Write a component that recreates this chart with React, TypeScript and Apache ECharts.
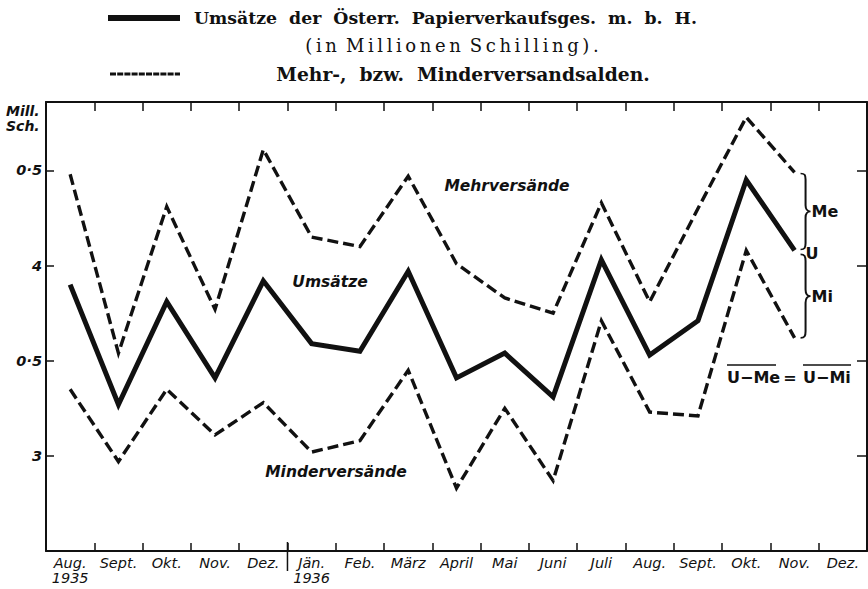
import React, { useEffect, useRef } from "react";
import * as echarts from "echarts";

const months = [
  "Aug.\n1935", "Sept.", "Okt.", "Nov.", "Dez.", "Jän.\n1936", "Feb.", "März",
  "April", "Mai", "Juni", "Juli", "Aug.", "Sept.", "Okt.", "Nov.", "Dez.",
];
const umsaetze = [3.9, 3.27, 3.81, 3.41, 3.92, 3.59, 3.55, 3.97, 3.41, 3.54, 3.31, 4.03, 3.53, 3.71, 4.45, 4.08, null];
const mehrversand = [4.48, 3.54, 4.31, 3.77, 4.61, 4.15, 4.1, 4.47, 4.01, 3.83, 3.75, 4.33, 3.81, 4.3, 4.78, 4.49, null];
const minderversand = [3.35, 2.97, 3.35, 3.11, 3.28, 3.02, 3.08, 3.45, 2.83, 3.25, 2.87, 3.71, 3.23, 3.21, 4.08, 3.62, null];
const yTickValues = [3, 3.5, 4, 4.5];
const yTickTexts = ["3", "0·5", "4", "0·5"];

const Y_MIN = 2.5;
const Y_MAX = 4.86;
const Y_STEP = 0.5;

const BRACE = "M0,0 C4,0 5,2 5,8 L5,42 C5,47 6,50 10,50 C6,50 5,53 5,58 L5,92 C5,98 4,100 0,100";
echarts.graphic.registerShape("brace", echarts.graphic.extendPath(BRACE, {}));

const SANS = "DejaVu Sans";
const SERIF = "DejaVu Serif";
const INK = "#111";

// spaced-out typesetting (thin spaces between letters)
const spaced = (s: string) =>
  s.split(" ").map((w) => w.split("").join("\u2009")).join("\u2002");

export default function App() {
  const ref = useRef<HTMLDivElement>(null);
  useEffect(() => {
    document.body.style.margin = "0";
    const chart = echarts.init(ref.current!, null, { renderer: "svg" });
    const yFmt = (v: number) => {
      const i = yTickValues.findIndex((t) => Math.abs(t - v) < 1e-6);
      return i >= 0 ? yTickTexts[i] : "";
    };
    const axisLine = { show: true, lineStyle: { color: INK, width: 2 } };
    const option: any = {
      animation: false,
      backgroundColor: "#fff",
      grid: { left: 46, right: 1, top: 102, bottom: 38 },
      xAxis: [
        {
          type: "category",
          data: months,
          boundaryGap: true,
          position: "bottom",
          axisLine,
          axisTick: { show: true, inside: true, length: 8, lineStyle: { color: INK, width: 1.5 } },
          axisLabel: {
            interval: 0,
            margin: 4,
            color: INK,
            fontFamily: SANS,
            fontStyle: "italic",
            fontSize: 14.5,
            lineHeight: 15,
          },
          splitLine: { show: false },
        },
        {
          type: "category",
          data: months,
          boundaryGap: true,
          position: "top",
          axisLine,
          axisTick: { show: true, inside: true, length: 9, lineStyle: { color: INK, width: 1.5 } },
          axisLabel: { show: false },
          splitLine: { show: false },
        },
      ],
      yAxis: [
        {
          type: "value",
          min: Y_MIN,
          max: Y_MAX,
          interval: Y_STEP,
          position: "left",
          axisLine,
          axisTick: { show: true, inside: true, length: 8, lineStyle: { color: INK, width: 1.5 } },
          axisLabel: {
            margin: 4,
            formatter: yFmt,
            color: INK,
            fontFamily: SANS,
            fontStyle: "italic",
            fontWeight: "bold",
            fontSize: 14.5,
          },
          splitLine: { show: false },
        },
        {
          type: "value",
          min: Y_MIN,
          max: Y_MAX,
          interval: Y_STEP,
          position: "right",
          axisLine,
          axisTick: { show: true, inside: true, length: 10, lineStyle: { color: INK, width: 1.5 } },
          axisLabel: { show: false },
          splitLine: { show: false },
        },
      ],
      series: [
        {
          name: "Mehrversände",
          type: "line",
          data: mehrversand,
          showSymbol: false,
          symbol: "none",
          lineStyle: { color: INK, width: 3.4, type: [11, 5], cap: "butt", join: "miter" },
        },
        {
          name: "Umsätze",
          type: "line",
          data: umsaetze,
          showSymbol: false,
          symbol: "none",
          lineStyle: { color: INK, width: 5, type: "solid", join: "miter" },
        },
        {
          name: "Minderversände",
          type: "line",
          data: minderversand,
          showSymbol: false,
          symbol: "none",
          lineStyle: { color: INK, width: 3.4, type: [11, 5], cap: "butt", join: "miter" },
        },
      ],
    };
    chart.setOption(option);

    const px = (i: number, v: number) =>
      chart.convertToPixel({ xAxisIndex: 0, yAxisIndex: 0 }, [i, v]) as number[];
    const last = 15;
    const pMe = px(last, mehrversand[last] as number);
    const pU = px(last, umsaetze[last] as number);
    const pMi = px(last, minderversand[last] as number);
    const bx = pU[0] + 6;
    const upTop = pMe[1] + 1;
    const upBot = pU[1] - 1;
    const loTop = pU[1] + 4;
    const loBot = pMi[1];
    const dez = px(4, 3)[0];
    const jan = px(5, 3)[0];
    const divX = (dez + jan) / 2;
    const axisY = px(0, Y_MIN)[1];

    const braceStyle = { stroke: INK, lineWidth: 2, fill: null, strokeNoScale: true };
    const labelFont = (size: number, weight = "normal", style = "normal", family = SANS) => ({
      fontSize: size,
      fontWeight: weight,
      fontStyle: style,
      fontFamily: family,
      fill: INK,
    });

    chart.setOption({
      graphic: [
        // legend / title
        { type: "line", shape: { x1: 108, y1: 18, x2: 180, y2: 18 }, style: { stroke: INK, lineWidth: 6 } },
        {
          type: "text",
          x: 194,
          y: 18,
          style: { text: "Umsätze  der  Österr.  Papierverkaufsges.  m.  b.  H.", ...labelFont(17.3, "bold", "normal", SERIF), verticalAlign: "middle" },
        },
        {
          type: "text",
          x: 452,
          y: 45,
          style: { text: spaced("(in Millionen Schilling)."), ...labelFont(18, "normal", "normal", SERIF), align: "center", verticalAlign: "middle" },
        },
        {
          type: "line",
          shape: { x1: 110, y1: 74, x2: 180, y2: 74 },
          style: { stroke: INK, lineWidth: 3, lineDash: [6, 1.2] },
        },
        {
          type: "text",
          x: 463,
          y: 74,
          style: { text: "Mehr-,  bzw.  Minderversandsalden.", ...labelFont(18.7, "bold", "normal", SERIF), align: "center", verticalAlign: "middle" },
        },
        // unit
        { type: "text", x: 6, y: 111, style: { text: "Mill.", ...labelFont(14, "bold", "italic"), verticalAlign: "middle" } },
        { type: "text", x: 6, y: 126, style: { text: "Sch.", ...labelFont(14, "bold", "italic"), verticalAlign: "middle" } },
        // series annotations
        { type: "text", x: 507, y: 186, style: { text: "Mehrversände", ...labelFont(15.5, "bold", "italic"), align: "center", verticalAlign: "middle" } },
        { type: "text", x: 330, y: 282, style: { text: "Umsätze", ...labelFont(15.5, "bold", "italic"), align: "center", verticalAlign: "middle" } },
        { type: "text", x: 336, y: 472, style: { text: "Minderversände", ...labelFont(15.5, "bold", "italic"), align: "center", verticalAlign: "middle" } },
        // year divider
        { type: "line", shape: { x1: divX, y1: axisY - 9, x2: divX, y2: axisY + 20 }, style: { stroke: INK, lineWidth: 1.5 } },
        // braces
        { type: "brace", x: bx, y: upTop, scaleX: 1, scaleY: (upBot - upTop) / 100, style: braceStyle },
        { type: "brace", x: bx, y: loTop, scaleX: 1, scaleY: (loBot - loTop) / 100, style: braceStyle },
        { type: "text", x: bx + 11, y: (upTop + upBot) / 2, style: { text: "Me", ...labelFont(16, "bold"), verticalAlign: "middle" } },
        { type: "text", x: bx + 5, y: pU[1] + 3, style: { text: "U", ...labelFont(16, "bold"), verticalAlign: "middle" } },
        { type: "text", x: bx + 11, y: (loTop + loBot) / 2, style: { text: "Mi", ...labelFont(16, "bold"), verticalAlign: "middle" } },
        // equation
        { type: "text", x: 727, y: 377, style: { text: "U−Me", ...labelFont(16, "bold"), verticalAlign: "middle" } },
        { type: "text", x: 790, y: 377, style: { text: "=", ...labelFont(16, "bold"), align: "center", verticalAlign: "middle" } },
        { type: "text", x: 803, y: 377, style: { text: "U−Mi", ...labelFont(16, "bold"), verticalAlign: "middle" } },
        { type: "line", shape: { x1: 727, y1: 365, x2: 776, y2: 365 }, style: { stroke: INK, lineWidth: 1.5 } },
        { type: "line", shape: { x1: 803, y1: 365, x2: 851, y2: 365 }, style: { stroke: INK, lineWidth: 1.5 } },
      ],
    });
    return () => chart.dispose();
  }, []);
  return <div ref={ref} style={{ position: "fixed", left: 0, top: 0, width: 868, height: 589, background: "#fff" }} />;
}
